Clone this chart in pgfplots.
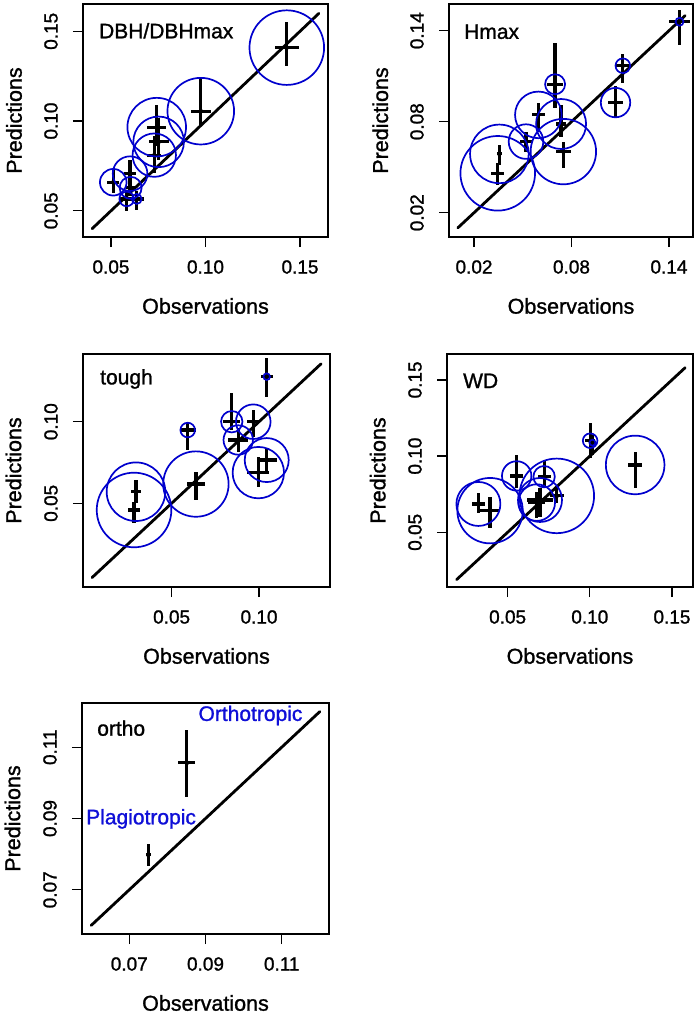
\documentclass[border=0pt]{standalone}
\usepackage{fontspec}
\setmainfont{Liberation Sans}[FakeBold=1.2]
\usepackage{pgfplots}
\usepackage{pgfplotstable}
\pgfplotsset{compat=1.18}
\pgfkeys{/pgf/number format/.cd, fixed, fixed zerofill, precision=2, assume math mode=true}
\definecolor{circ}{RGB}{0,0,205}
\definecolor{txtblue}{RGB}{15,15,215}

% DBH/DBHmax
\pgfplotstableread{
x y ex eyp eym r
0.1430 0.1409 0.0063 0.0143 0.0103 37.3
0.0975 0.1055 0.0053 0.0186 0.0084 33.3
0.0742 0.0966 0.0050 0.0121 0.0106 29.3
0.0752 0.0884 0.0053 0.0134 0.0099 25.3
0.0729 0.0810 0.0037 0.0106 0.0099 21.7
0.0512 0.0659 0.0033 0.0074 0.0060 13.3
0.0601 0.0707 0.0033 0.0074 0.0089 17.3
0.0604 0.0628 0.0026 0.0037 0.0046 11.0
0.0583 0.0566 0.0035 0.0052 0.0069 7.3
0.0636 0.0566 0.0040 0.0043 0.0060 5.0
}\tabA
% Hmax
\pgfplotstableread{
x y ex eyp eym r
0.1465 0.1459 0.0062 0.0077 0.0154 4.0
0.1116 0.1169 0.0041 0.0075 0.0112 7.3
0.1071 0.0926 0.0044 0.0110 0.0097 14.7
0.0699 0.1047 0.0049 0.0270 0.0158 10.0
0.0596 0.0845 0.0038 0.0077 0.0110 23.3
0.0736 0.0785 0.0031 0.0125 0.0084 25.0
0.0750 0.0603 0.0046 0.0066 0.0110 32.7
0.0520 0.0669 0.0034 0.0066 0.0066 17.3
0.0356 0.0588 0.0015 0.0059 0.0072 29.3
0.0346 0.0460 0.0041 0.0066 0.0079 37.3
}\tabB
% tough
\pgfplotstableread{
x y ex eyp eym r
0.1044 0.1276 0.0034 0.0112 0.0123 3.3
0.0592 0.0949 0.0045 0.0041 0.0123 7.3
0.0844 0.1000 0.0048 0.0174 0.0051 10.7
0.0967 0.1000 0.0034 0.0072 0.0092 17.3
0.0881 0.0888 0.0057 0.0072 0.0072 14.7
0.1044 0.0765 0.0057 0.0072 0.0082 22.0
0.0996 0.0688 0.0063 0.0098 0.0086 25.7
0.0639 0.0618 0.0050 0.0075 0.0098 32.7
0.0296 0.0571 0.0029 0.0072 0.0072 29.3
0.0285 0.0459 0.0034 0.0051 0.0082 37.3
}\tabC
% WD
\pgfplotstableread{
x y ex eyp eym r
0.1002 0.1101 0.0030 0.0114 0.0116 7.3
0.1016 0.1088 0.0020 0.0052 0.0079 3.0
0.1276 0.0942 0.0043 0.0087 0.0153 29.3
0.0555 0.0870 0.0041 0.0138 0.0081 14.7
0.0722 0.0865 0.0039 0.0110 0.0066 10.7
0.0799 0.0739 0.0041 0.0061 0.0048 37.3
0.0697 0.0712 0.0081 0.0077 0.0110 22.0
0.0677 0.0695 0.0051 0.0072 0.0103 18.3
0.0322 0.0686 0.0038 0.0070 0.0061 22.0
0.0393 0.0642 0.0061 0.0092 0.0116 32.7
}\tabD
% ortho
\pgfplotstableread{
x y ex eyp eym
0.0851 0.1056 0.0022 0.0091 0.0097
0.0750 0.0798 0.0006 0.0030 0.0031
}\tabE

\tikzset{lab/.style={anchor=west, inner sep=0pt, font=\fontsize{21}{21}\selectfont}}

\pgfplotsset{
  panel/.style={
    scale only axis,
    anchor=north west,
    axis line style={line width=2.6pt, black},
    tick align=outside,
    xtick pos=bottom, ytick pos=left,
    major tick length=10pt,
    tick style={line width=1.3pt, black},
    xticklabel style={font=\fontsize{19}{19}\selectfont, anchor=center, yshift=-20pt},
    yticklabel style={font=\fontsize{19}{19}\selectfont, xshift=-22pt, rotate=90, anchor=center},
    xlabel={Observations}, ylabel={Predictions},
    xlabel style={font=\fontsize{21.5}{21.5}\selectfont, at={(axis description cs:0.5,0)}, anchor=center, yshift=-69pt},
    ylabel style={font=\fontsize{21.5}{21.5}\selectfont, at={(axis description cs:-0.2816,0.5)}, anchor=center},
  },
  errs/.style={only marks, mark=none,
    error bars/.cd, x dir=both, x explicit, y dir=both, y explicit, error mark=none,
    error bar style={line width=3.2pt, black}},
  circs/.style={scatter, only marks, mark=o,
    scatter/use mapped color={draw=circ, fill=none},
    mark options={line width=1.7pt},
    visualization depends on={\thisrow{r} \as \rad},
    scatter/@pre marker code/.append style={/tikz/mark size=\rad pt}},
  oneone/.style={black, line width=2.8pt, line cap=round},
}

\begin{document}
\begin{tikzpicture}
\useasboundingbox (0pt,-1017pt) rectangle (699pt,0pt);

% Panel 1: DBH/DBHmax
\begin{axis}[panel, at={(83pt,-4pt)}, width=245pt, height=233pt,
  xmin=0.0352, xmax=0.1648, ymin=0.0354, ymax=0.1652,
  xtick={0.05,0.10,0.15}, ytick={0.05,0.10,0.15}]
\addplot[oneone] coordinates {(0.04,0.04) (0.16,0.16)};
\addplot[errs] table[x=x, y=y, x error plus=ex, x error minus=ex, y error plus=eyp, y error minus=eym] \tabA;
\addplot[circs] table[x=x, y=y] \tabA;
\node[lab] at (rel axis cs:0.065,0.885) {DBH/DBHmax};
\end{axis}

% Panel 2: Hmax
\begin{axis}[panel, at={(449pt,-4pt)}, width=244pt, height=233pt,
  xmin=0.0046, xmax=0.1548, ymin=0.004, ymax=0.1576,
  xtick={0.02,0.08,0.14}, ytick={0.02,0.08,0.14}]
\addplot[oneone] coordinates {(0.01,0.01) (0.15,0.15)};
\addplot[errs] table[x=x, y=y, x error plus=ex, x error minus=ex, y error plus=eyp, y error minus=eym] \tabB;
\addplot[circs] table[x=x, y=y] \tabB;
\node[lab] at (rel axis cs:0.0615,0.881) {Hmax};
\end{axis}

% Panel 3: tough
\begin{axis}[panel, at={(83pt,-354pt)}, width=247pt, height=233pt,
  xmin=-0.0007, xmax=0.1406, ymin=-0.0013, ymax=0.1415,
  xtick={0.05,0.10}, ytick={0.05,0.10}]
\addplot[oneone] coordinates {(0.0045,0.0045) (0.1355,0.1355)};
\addplot[errs] table[x=x, y=y, x error plus=ex, x error minus=ex, y error plus=eyp, y error minus=eym] \tabC;
\addplot[circs] table[x=x, y=y] \tabC;
\node[lab] at (rel axis cs:0.069,0.893) {tough};
\end{axis}

% Panel 4: WD
\begin{axis}[panel, at={(447pt,-354pt)}, width=246pt, height=233pt,
  xmin=0.0131, xmax=0.1628, ymin=0.0141, ymax=0.167,
  xtick={0.05,0.10,0.15}, ytick={0.05,0.10,0.15}]
\addplot[oneone] coordinates {(0.019,0.019) (0.158,0.158)};
\addplot[errs] table[x=x, y=y, x error plus=ex, x error minus=ex, y error plus=eyp, y error minus=eym] \tabD;
\addplot[circs] table[x=x, y=y] \tabD;
\node[lab] at (rel axis cs:0.065,0.885) {WD};
\end{axis}

% Panel 5: ortho
\begin{axis}[panel, at={(82pt,-703pt)}, width=247pt, height=231pt,
  xmin=0.0576, xmax=0.1224, ymin=0.0576, ymax=0.1224,
  xtick={0.07,0.09,0.11}, ytick={0.07,0.09,0.11}]
\addplot[oneone] coordinates {(0.06,0.06) (0.12,0.12)};
\addplot[errs] table[x=x, y=y, x error plus=ex, x error minus=ex, y error plus=eyp, y error minus=eym] \tabE;
\node[lab] at (rel axis cs:0.061,0.891) {ortho};
\node[anchor=center, inner sep=0pt, text=txtblue, font=\fontsize{21}{21}\selectfont] at (axis cs:0.1018,0.1189) {Orthotropic};
\node[anchor=center, inner sep=0pt, text=txtblue, font=\fontsize{21}{21}\selectfont] at (axis cs:0.0731,0.0899) {Plagiotropic};
\end{axis}
\end{tikzpicture}
\end{document}
